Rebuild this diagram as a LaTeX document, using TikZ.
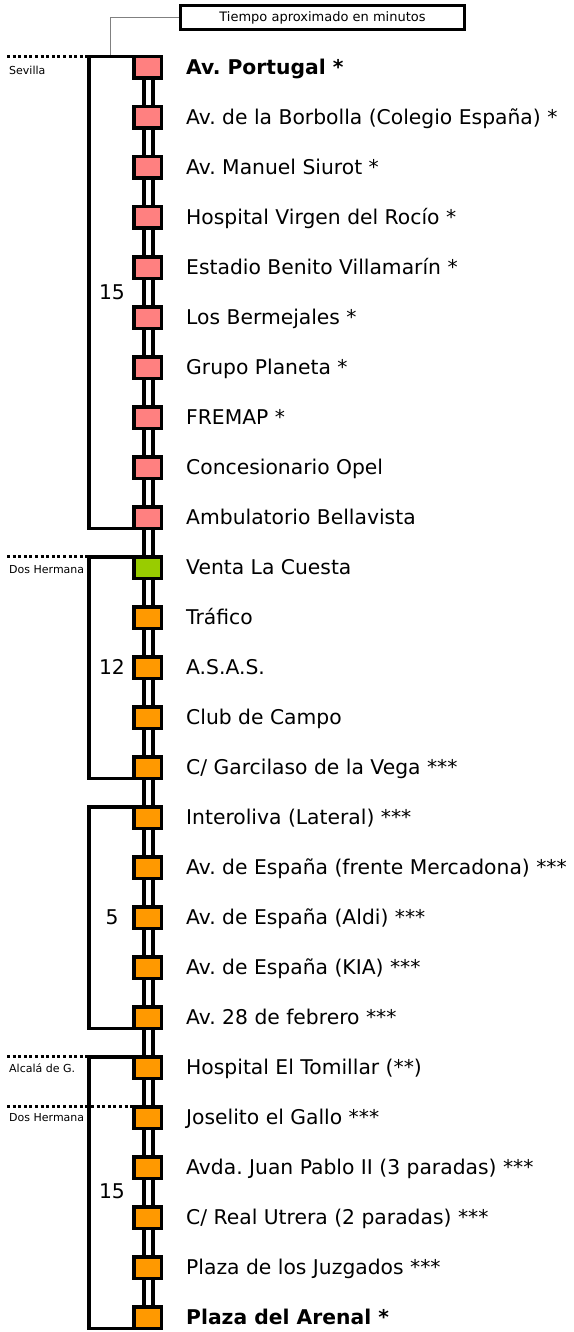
\documentclass[tikz,border=0pt]{standalone}
\usepackage{fontspec}
\setmainfont{DejaVu Sans}
\usetikzlibrary{positioning,backgrounds}
\definecolor{sevred}{HTML}{FF8080}
\definecolor{dhgreen}{HTML}{99CC00}
\definecolor{dhorange}{HTML}{FF9900}
\tikzset{
  stop/.style={draw, line width=3.5pt, minimum width=27.5pt, minimum height=21.5pt, inner sep=0pt},
  stopname/.style={inner sep=0pt, font=\fontsize{20.3}{20}\selectfont, text height=14.8pt, text depth=0pt},
  city/.style={anchor=west, inner sep=0pt, font=\fontsize{11}{11}\selectfont},
  mins/.style={inner sep=0pt, font=\fontsize{20.3}{20}\selectfont},
  bracket/.style={draw, line width=3.5pt},
  limit/.style={draw, line width=3.2pt, dash pattern=on 3pt off 2.6pt},
  rail/.style={draw, line width=4pt}
}
\frenchspacing
\begin{document}
\begin{tikzpicture}[x=1pt, y=-1pt, node distance=25pt and 23pt]
		\useasboundingbox (0,0) rectangle (573,1332);
		% Stops
		\node[stop, fill=sevred] (s1) at (147.5,67.5) {};
		\node[stop, fill=sevred, below=of s1] (s2) {};
		\node[stop, fill=sevred, below=of s2] (s3) {};
		\node[stop, fill=sevred, below=of s3] (s4) {};
		\node[stop, fill=sevred, below=of s4] (s5) {};
		\node[stop, fill=sevred, below=of s5] (s6) {};
		\node[stop, fill=sevred, below=of s6] (s7) {};
		\node[stop, fill=sevred, below=of s7] (s8) {};
		\node[stop, fill=sevred, below=of s8] (s9) {};
		\node[stop, fill=sevred, below=of s9] (s10) {};
		\node[stop, fill=dhgreen, below=of s10] (s11) {};
		\node[stop, fill=dhorange, below=of s11] (s12) {};
		\node[stop, fill=dhorange, below=of s12] (s13) {};
		\node[stop, fill=dhorange, below=of s13] (s14) {};
		\node[stop, fill=dhorange, below=of s14] (s15) {};
		\node[stop, fill=dhorange, below=of s15] (s16) {};
		\node[stop, fill=dhorange, below=of s16] (s17) {};
		\node[stop, fill=dhorange, below=of s17] (s18) {};
		\node[stop, fill=dhorange, below=of s18] (s19) {};
		\node[stop, fill=dhorange, below=of s19] (s20) {};
		\node[stop, fill=dhorange, below=of s20] (s21) {};
		\node[stop, fill=dhorange, below=of s21] (s22) {};
		\node[stop, fill=dhorange, below=of s22] (s23) {};
		\node[stop, fill=dhorange, below=of s23] (s24) {};
		\node[stop, fill=dhorange, below=of s24] (s25) {};
		\node[stop, fill=dhorange, below=of s25] (s26) {};

		% Stop names
		\node[stopname, right=of s1] {\textbf{Av. Portugal *}};
		\node[stopname, right=of s2] {Av. de la Borbolla (Colegio España) *};
		\node[stopname, right=of s3] {Av. Manuel Siurot *};
		\node[stopname, right=of s4] {Hospital Virgen del Rocío *};
		\node[stopname, right=of s5] {Estadio Benito Villamarín *};
		\node[stopname, right=of s6] {Los Bermejales *};
		\node[stopname, right=of s7] {Grupo Planeta *};
		\node[stopname, right=of s8] {FREMAP *};
		\node[stopname, right=of s9] {Concesionario Opel};
		\node[stopname, right=of s10] {Ambulatorio Bellavista};
		\node[stopname, right=of s11] {Venta La Cuesta};
		\node[stopname, right=of s12] {Tráfico};
		\node[stopname, right=of s13] {A.S.A.S.};
		\node[stopname, right=of s14] {Club de Campo};
		\node[stopname, right=of s15] {C/ Garcilaso de la Vega ***};
		\node[stopname, right=of s16] {Interoliva (Lateral) ***};
		\node[stopname, right=of s17] {Av. de España (frente Mercadona) ***};
		\node[stopname, right=of s18] {Av. de España (Aldi) ***};
		\node[stopname, right=of s19] {Av. de España (KIA) ***};
		\node[stopname, right=of s20] {Av. 28 de febrero ***};
		\node[stopname, right=of s21] {Hospital El Tomillar (**)};
		\node[stopname, right=of s22] {Joselito el Gallo ***};
		\node[stopname, right=of s23] {Avda. Juan Pablo II (3 paradas) ***};
		\node[stopname, right=of s24] {C/ Real Utrera (2 paradas) ***};
		\node[stopname, right=of s25] {Plaza de los Juzgados ***};
		\node[stopname, right=of s26] {\textbf{Plaza del Arenal *}};

		% Rails
		\begin{scope}[on background layer]
		\draw[rail] ([xshift=-4pt]s1.center) -- ([xshift=-4pt]s26.center);
		\draw[rail] ([xshift=5pt]s1.center) -- ([xshift=5pt]s26.center);
		\end{scope}

		% Minutes
		\coordinate (bk) at (89,0);
		\draw[bracket] ([yshift=-1.75pt]s1.north west) -| (bk |- s10) |- ([yshift=1.75pt]s10.south west);
		\draw[bracket] ([yshift=-1.75pt]s11.north west) -| (bk |- s15) |- ([yshift=1.75pt]s15.south west);
		\draw[bracket] ([yshift=-1.75pt]s16.north west) -| (bk |- s20) |- ([yshift=1.75pt]s20.south west);
		\draw[bracket] ([yshift=-1.75pt]s21.north west) -| (bk |- s26) |- ([yshift=1.75pt]s26.south west);
		\node[mins] at (112,292) {15};
		\node[mins] at (112,667) {12};
		\node[mins] at (112,917) {5};
		\node[mins] at (112,1191) {15};

		% Towns
		\coordinate (sev) at (7,56.5);
		\coordinate (dh1) at (7,556.5);
		\coordinate (alc) at (7,1056.5);
		\coordinate (dh2) at (7,1106.5);
		\draw[limit] (sev) -- (sev -| bk);
		\draw[limit] (dh1) -- (dh1 -| bk);
		\draw[limit] (alc) -- (alc -| bk);
		\draw[limit] (dh2) -- (dh2 -| s22.west);
		\node[city] at (9,70) {Sevilla};
		\node[city] at (9,570) {Dos Hermana};
		\node[city] at (9,1068) {Alcalá de G.};
		\node[city] at (9,1118) {Dos Hermana};

		% Legend
		\node[draw, line width=2.8pt, minimum width=284pt, minimum height=24pt, inner sep=0pt, font=\fontsize{13}{13}\selectfont] (tiempo) at (322.5,17.5) {Tiempo aproximado en minutos};
		\coordinate (tip) at (110,55);
		\draw[gray, line width=1pt] (tiempo.west) -| (tip);
	\end{tikzpicture}
\end{document}
